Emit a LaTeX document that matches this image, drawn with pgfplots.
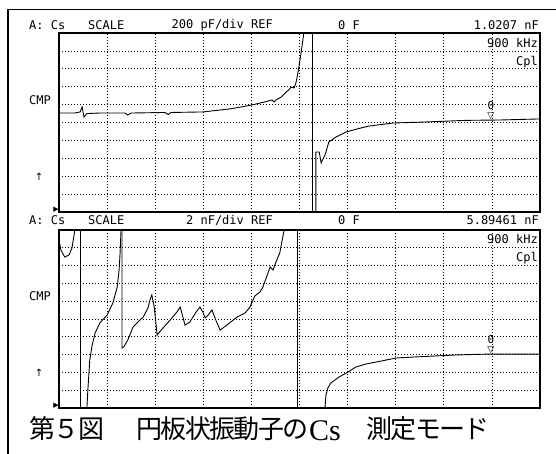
\documentclass[border=0pt]{standalone}
\usepackage{pgfplots}
\pgfplotsset{compat=1.18}
\usepackage{fontspec}
\newfontfamily\scr{DejaVu Sans Mono}
\newfontfamily\sym{DejaVu Sans}
\newfontfamily\cjk[LetterSpace=-6]{Noto Sans CJK JP}
\newfontfamily\ser{Liberation Serif}
\pgfplotsset{screen/.style={scale only axis, width=481bp, xmin=0, xmax=10, ymin=0, ymax=10,
  xtick={0,...,10}, ytick={0,...,10}, xticklabels={}, yticklabels={}, major tick length=0pt,
  grid=major, grid style={black, line width=0.8bp, dash pattern=on 0.8bp off 2.2bp},
  axis line style={line width=1.2bp}, anchor=south west}}
\tikzset{st/.style={inner sep=0pt, font=\scr\fontsize{12bp}{12bp}\selectfont},
  tr/.style={black, line width=0.9bp}}
\begin{document}
\begin{tikzpicture}
\useasboundingbox (0,0) rectangle (556bp,-454bp);
\draw[line width=1.5bp] (8bp,-454bp) -- (8bp,-9.5bp) -- (556bp,-9.5bp);
% upper panel
\begin{axis}[screen, height=179bp, at={(59bp,-212bp)}]
\addplot[tr] coordinates {(0,5.53) (0.33,5.53) (0.44,5.59) (0.48,5.87) (0.52,5.31) (0.58,5.50) (0.85,5.53) (1.37,5.53) (1.43,5.42) (1.50,5.53) (2.20,5.56) (2.27,5.45) (2.33,5.56) (2.99,5.59) (3.56,5.76) (4.01,5.98) (4.28,6.15) (4.43,6.26) (4.47,6.15) (4.51,6.26) (4.62,6.42) (4.72,6.70) (4.78,6.82) (4.82,6.98) (4.89,6.93) (4.93,7.26) (4.97,7.82) (5.01,8.49) (5.05,9.22) (5.09,10.0) (5.11,10.5)};
\addplot[tr] coordinates {(5.26,0) (5.26,10)};
\addplot[tr] coordinates {(5.34,0) (5.34,3.35) (5.41,3.35) (5.45,2.74) (5.53,3.18) (5.61,3.91) (5.76,4.19) (5.97,4.47) (6.20,4.64) (6.44,4.80) (6.94,4.97) (7.63,5.03) (8.46,5.12) (9.17,5.14) (10,5.20)};
\node[anchor=south, inner sep=0pt, font=\sym\fontsize{9bp}{9bp}\selectfont] (m1) at (axis cs:8.98,5.17) {▽};
\node[anchor=south, inner sep=0pt, yshift=2.5bp, font=\scr\fontsize{11bp}{11bp}\selectfont] at (m1.north) {0};
\end{axis}
% lower panel
\begin{axis}[screen, height=178bp, at={(59bp,-408bp)}]
\addplot[tr] coordinates {(0,10.5) (0,9.44) (0.04,8.88) (0.12,8.48) (0.21,8.60) (0.27,8.99) (0.33,10) (0.34,10.5)};
\addplot[tr] coordinates {(0.44,0) (0.44,10)};
\addplot[tr] coordinates {(0.58,-0.5) (0.58,0) (0.60,1.01) (0.64,2.70) (0.69,3.54) (0.75,4.21) (0.85,4.78) (1.00,5.22) (1.12,5.90) (1.21,6.80) (1.25,7.75) (1.27,8.71) (1.29,10) (1.30,10.5)};
\addplot[tr] coordinates {(1.31,10.5) (1.31,3.37) (1.35,3.45) (1.43,3.82) (1.54,4.55) (1.64,4.83) (1.75,5.11) (1.85,5.62) (1.89,6.07) (1.93,6.35) (1.98,5.67) (2.04,4.10) (2.16,4.49) (2.31,4.94) (2.45,5.39) (2.52,5.67) (2.58,5.06) (2.62,4.66) (2.72,4.83) (2.85,5.39) (2.93,5.67) (2.99,5.39) (3.04,5.06) (3.10,5.22) (3.18,5.51) (3.26,4.94) (3.35,4.38) (3.49,4.66) (3.70,5.11) (3.87,5.34) (3.97,5.67) (4.07,6.29) (4.18,6.52) (4.24,6.80) (4.39,7.92) (4.45,7.75) (4.51,8.20) (4.59,8.71) (4.64,9.44) (4.68,10) (4.70,10.5)};
\addplot[tr] coordinates {(4.95,0) (4.95,10)};
\addplot[tr] coordinates {(5.53,-0.5) (5.53,0) (5.55,0.73) (5.59,1.12) (5.65,1.40) (5.82,1.74) (6.01,2.02) (6.17,2.30) (6.38,2.47) (6.59,2.58) (7.01,2.81) (7.42,2.87) (8.25,2.98) (8.94,3.03) (10,3.03)};
\node[anchor=south, inner sep=0pt, font=\sym\fontsize{9bp}{9bp}\selectfont] (m2) at (axis cs:8.98,3.03) {▽};
\node[anchor=south, inner sep=0pt, yshift=2.5bp, font=\scr\fontsize{11bp}{11bp}\selectfont] at (m2.north) {0};
\end{axis}
% header texts
\foreach \yy/\sc/\rf in {-25/200 pF\slash div REF/1.0207 nF, -220/2 nF\slash div REF/5.89461 nF}{
  \node[st, anchor=west] at (29bp,\yy bp) {A: Cs};
  \node[st, anchor=west] at (88bp,\yy bp) {SCALE};
  \node[st, anchor=east] at (273bp,\yy bp) {\sc};
  \node[st, anchor=west] at (338bp,\yy bp) {0 F};
  \node[st, anchor=east] at (539bp,\yy bp) {\rf};
}
% in-screen texts
\foreach \off in {0,196}{
  \node[st, anchor=east] at (538bp,-43bp-\off bp) {900 kHz};
  \node[st, anchor=east] at (538bp,-62bp-\off bp) {Cpl};
  \node[st, anchor=west] at (29bp,-100bp-\off bp) {CMP};
  \node[inner sep=0pt, font=\sym\fontsize{10bp}{10bp}\selectfont] at (39bp,-177bp-\off bp) {↑};
  \node[inner sep=0pt, font=\sym\fontsize{7bp}{7bp}\selectfont] at (56bp,-210bp-\off bp) {▶};
}
% caption
\node[anchor=base west, inner sep=0pt, font=\cjk\fontsize{26bp}{26bp}\selectfont] at (29bp,-438bp) {第５図};
\node[anchor=base west, inner sep=0pt, font=\cjk\fontsize{26bp}{26bp}\selectfont] at (136bp,-438bp) {円板状振動子の};
\node[anchor=base west, inner sep=0pt, font=\ser\fontsize{30bp}{30bp}\selectfont] at (309bp,-440bp) {Cs};
\node[anchor=base west, inner sep=0pt, font=\cjk\fontsize{26bp}{26bp}\selectfont] at (366bp,-438bp) {測定モード};
\end{tikzpicture}
\end{document}
